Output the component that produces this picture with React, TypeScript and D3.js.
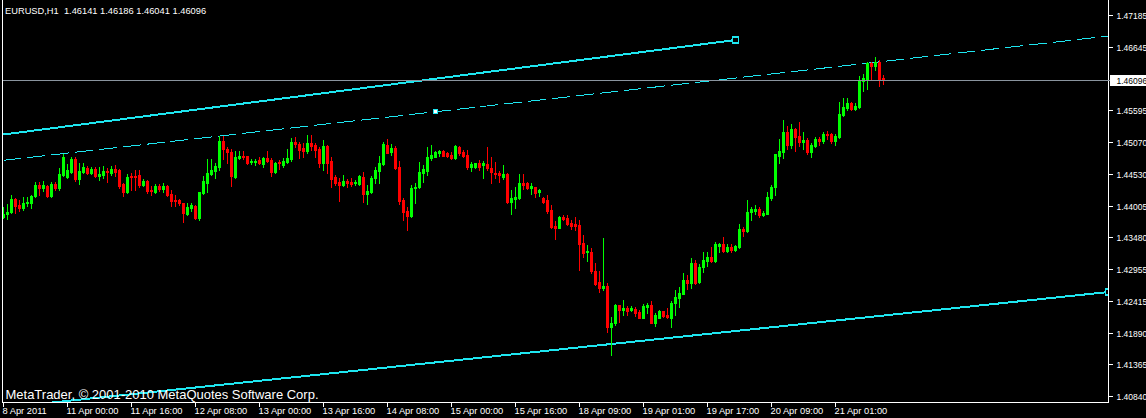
import React from "react";
import * as d3 from "d3";

const symbolTitle = "EURUSD,H1  1.46141 1.46186 1.46041 1.46096";
const copyright = "MetaTrader, \u00A9 2001-2010 MetaQuotes Software Corp.";

const open = [
  1.4382,1.4387,1.4390,1.4412,1.4402,1.4397,1.4405,1.4406,1.4417,1.4435,
  1.4430,1.4434,1.4417,1.4437,1.4430,1.4452,1.4449,1.4457,1.4479,1.4445,
  1.4457,1.4464,1.4455,1.4462,1.4450,1.4452,1.4459,1.4455,1.4462,1.4460,
  1.4437,1.4424,1.4450,1.4450,1.4452,1.4435,1.4442,1.4427,1.4424,1.4434,
  1.4429,1.4434,1.4420,1.4410,1.4410,1.4405,1.4387,1.4397,1.4400,1.4380,
  1.4422,1.4439,1.4454,1.4459,1.4465,1.4509,1.4495,1.4490,1.4449,1.4480,
  1.4484,1.4484,1.4474,1.4474,1.4477,1.4470,1.4480,1.4477,1.4457,1.4474,
  1.4469,1.4474,1.4479,1.4507,1.4504,1.4497,1.4492,1.4505,1.4502,1.4495,
  1.4472,1.4500,1.4475,1.4449,1.4440,1.4435,1.4442,1.4440,1.4439,1.4437,
  1.4449,1.4420,1.4424,1.4447,1.4459,1.4470,1.4502,1.4490,1.4497,1.4465,
  1.4410,1.4392,1.4384,1.4430,1.4432,1.4455,1.4459,1.4480,1.4482,1.4489,
  1.4492,1.4489,1.4485,1.4480,1.4498,1.4490,1.4485,1.4465,1.4465,1.4472,
  1.4469,1.4470,1.4464,1.4455,1.4455,1.4449,1.4454,1.4407,1.4412,1.4414,
  1.4439,1.4439,1.4430,1.4432,1.4424,1.4414,1.4410,1.4394,1.4367,1.4364,
  1.4382,1.4380,1.4372,1.4370,1.4369,1.4339,1.4324,1.4324,1.4292,1.4274,
  1.4264,1.4267,1.4199,1.4206,1.4236,1.4227,1.4231,1.4227,1.4229,1.4224,
  1.4214,1.4232,1.4236,1.4206,1.4214,1.4226,1.4219,1.4214,1.4239,1.4247,
  1.4254,1.4277,1.4272,1.4306,1.4274,1.4299,1.4309,1.4316,1.4309,1.4334,
  1.4337,1.4326,1.4332,1.4327,1.4332,1.4362,1.4359,1.4390,1.4392,1.4395,
  1.4385,1.4387,1.4414,1.4432,1.4484,1.4490,1.4524,1.4502,1.4529,1.4517,
  1.4507,1.4510,1.4490,1.4500,1.4512,1.4509,1.4520,1.4520,1.4509,1.4515,
  1.4552,1.4564,1.4572,1.4562,1.4565,1.4609,1.4610,1.4639,1.4634,1.4640,
  1.46141,
];

const high = [
  1.4399,1.4404,1.4419,1.4414,1.4410,1.4415,1.4415,1.4419,1.4440,1.4440,
  1.4442,1.4435,1.4440,1.4440,1.4464,1.4487,1.4470,1.4482,1.4482,1.4472,
  1.4472,1.4467,1.4465,1.4465,1.4465,1.4467,1.4464,1.4467,1.4469,1.4462,
  1.4439,1.4454,1.4455,1.4460,1.4460,1.4445,1.4444,1.4434,1.4437,1.4437,
  1.4439,1.4435,1.4427,1.4419,1.4412,1.4406,1.4405,1.4405,1.4402,1.4424,
  1.4450,1.4479,1.4479,1.4472,1.4517,1.4517,1.4498,1.4495,1.4492,1.4492,
  1.4492,1.4484,1.4479,1.4479,1.4482,1.4482,1.4492,1.4480,1.4474,1.4477,
  1.4480,1.4495,1.4514,1.4515,1.4507,1.4505,1.4519,1.4519,1.4505,1.4498,
  1.4510,1.4502,1.4482,1.4452,1.4447,1.4452,1.4445,1.4447,1.4444,1.4452,
  1.4457,1.4435,1.4450,1.4465,1.4484,1.4507,1.4512,1.4504,1.4500,1.4475,
  1.4414,1.4399,1.4435,1.4439,1.4474,1.4469,1.4499,1.4502,1.4492,1.4494,
  1.4493,1.4490,1.4490,1.4502,1.4500,1.4494,1.4494,1.4474,1.4472,1.4477,
  1.4475,1.4499,1.4482,1.4474,1.4459,1.4469,1.4455,1.4427,1.4432,1.4454,
  1.4454,1.4440,1.4439,1.4432,1.4429,1.4415,1.4419,1.4402,1.4375,1.4384,
  1.4385,1.4385,1.4377,1.4382,1.4377,1.4352,1.4336,1.4330,1.4306,1.4292,
  1.4347,1.4272,1.4216,1.4237,1.4236,1.4244,1.4234,1.4234,1.4232,1.4227,
  1.4237,1.4239,1.4242,1.4222,1.4227,1.4226,1.4231,1.4242,1.4261,1.4266,
  1.4289,1.4286,1.4314,1.4311,1.4304,1.4324,1.4324,1.4332,1.4341,1.4339,
  1.4349,1.4337,1.4337,1.4336,1.4370,1.4365,1.4410,1.4399,1.4402,1.4399,
  1.4392,1.4424,1.4435,1.4487,1.4512,1.4544,1.4534,1.4537,1.4530,1.4540,
  1.4524,1.4514,1.4505,1.4515,1.4515,1.4524,1.4525,1.4522,1.4520,1.4574,
  1.4580,1.4580,1.4574,1.4572,1.4617,1.4620,1.4640,1.4640,1.4649,1.4644,
  1.46186,
];

const low = [
  1.4380,1.4379,1.4389,1.4389,1.4392,1.4394,1.4400,1.4397,1.4415,1.4419,
  1.4425,1.4415,1.4415,1.4427,1.4427,1.4450,1.4447,1.4455,1.4442,1.4437,
  1.4455,1.4454,1.4454,1.4449,1.4444,1.4447,1.4440,1.4452,1.4450,1.4430,
  1.4417,1.4422,1.4427,1.4427,1.4432,1.4434,1.4422,1.4419,1.4422,1.4425,
  1.4424,1.4417,1.4400,1.4400,1.4402,1.4374,1.4385,1.4392,1.4379,1.4377,
  1.4420,1.4424,1.4452,1.4447,1.4460,1.4479,1.4472,1.4434,1.4447,1.4479,
  1.4479,1.4470,1.4470,1.4469,1.4470,1.4465,1.4474,1.4450,1.4455,1.4462,
  1.4465,1.4472,1.4475,1.4499,1.4480,1.4482,1.4489,1.4494,1.4482,1.4465,
  1.4460,1.4455,1.4432,1.4435,1.4409,1.4434,1.4432,1.4434,1.4435,1.4435,
  1.4407,1.4404,1.4422,1.4439,1.4439,1.4469,1.4489,1.4485,1.4462,1.4404,
  1.4377,1.4361,1.4382,1.4405,1.4430,1.4440,1.4452,1.4477,1.4482,1.4484,
  1.4484,1.4482,1.4479,1.4479,1.4485,1.4482,1.4462,1.4459,1.4464,1.4460,
  1.4447,1.4460,1.4439,1.4447,1.4440,1.4445,1.4405,1.4387,1.4397,1.4412,
  1.4429,1.4429,1.4420,1.4415,1.4417,1.4405,1.4389,1.4364,1.4346,1.4364,
  1.4377,1.4369,1.4362,1.4361,1.4294,1.4315,1.4309,1.4289,1.4269,1.4257,
  1.4261,1.4191,1.4152,1.4202,1.4207,1.4219,1.4219,1.4226,1.4217,1.4214,
  1.4214,1.4222,1.4206,1.4201,1.4214,1.4216,1.4214,1.4199,1.4219,1.4232,
  1.4254,1.4262,1.4264,1.4271,1.4272,1.4291,1.4301,1.4307,1.4307,1.4324,
  1.4324,1.4324,1.4324,1.4326,1.4330,1.4350,1.4357,1.4377,1.4387,1.4382,
  1.4384,1.4387,1.4410,1.4419,1.4472,1.4480,1.4495,1.4497,1.4492,1.4500,
  1.4495,1.4487,1.4482,1.4499,1.4502,1.4505,1.4512,1.4505,1.4502,1.4514,
  1.4550,1.4560,1.4560,1.4560,1.4564,1.4592,1.4595,1.4612,1.4627,1.4600,
  1.46041,
];

const close = [
  1.4387,1.4390,1.4412,1.4400,1.4397,1.4405,1.4407,1.4417,1.4435,1.4430,
  1.4435,1.4417,1.4437,1.4430,1.4454,1.4482,1.4460,1.4479,1.4445,1.4459,
  1.4465,1.4455,1.4462,1.4450,1.4454,1.4459,1.4457,1.4462,1.4457,1.4434,
  1.4424,1.4449,1.4449,1.4449,1.4435,1.4442,1.4425,1.4425,1.4434,1.4429,
  1.4434,1.4419,1.4409,1.4409,1.4405,1.4389,1.4399,1.4402,1.4380,1.4424,
  1.4442,1.4455,1.4460,1.4467,1.4509,1.4495,1.4490,1.4450,1.4482,1.4484,
  1.4482,1.4472,1.4475,1.4475,1.4472,1.4480,1.4475,1.4457,1.4472,1.4472,
  1.4475,1.4480,1.4507,1.4504,1.4494,1.4492,1.4505,1.4500,1.4494,1.4472,
  1.4500,1.4472,1.4445,1.4439,1.4435,1.4442,1.4439,1.4437,1.4440,1.4450,
  1.4420,1.4425,1.4447,1.4460,1.4472,1.4504,1.4489,1.4497,1.4464,1.4409,
  1.4390,1.4384,1.4430,1.4432,1.4457,1.4462,1.4482,1.4485,1.4490,1.4492,
  1.4484,1.4484,1.4480,1.4500,1.4489,1.4484,1.4465,1.4470,1.4472,1.4465,
  1.4472,1.4464,1.4457,1.4454,1.4452,1.4454,1.4407,1.4414,1.4415,1.4439,
  1.4435,1.4430,1.4434,1.4422,1.4427,1.4407,1.4392,1.4366,1.4364,1.4382,
  1.4379,1.4370,1.4367,1.4367,1.4337,1.4322,1.4325,1.4292,1.4271,1.4264,
  1.4267,1.4199,1.4206,1.4236,1.4227,1.4231,1.4226,1.4231,1.4222,1.4214,
  1.4234,1.4236,1.4206,1.4219,1.4226,1.4217,1.4216,1.4239,1.4249,1.4256,
  1.4277,1.4272,1.4306,1.4272,1.4299,1.4311,1.4316,1.4309,1.4337,1.4337,
  1.4326,1.4332,1.4327,1.4334,1.4362,1.4359,1.4390,1.4395,1.4395,1.4385,
  1.4389,1.4415,1.4432,1.4487,1.4492,1.4524,1.4502,1.4529,1.4515,1.4507,
  1.4510,1.4490,1.4502,1.4512,1.4509,1.4520,1.4519,1.4509,1.4517,1.4554,
  1.4565,1.4572,1.4562,1.4567,1.4610,1.4614,1.4639,1.4634,1.4640,1.4612,
  1.46096,
];

// price axis labels
const priceTicks = [1.47185, 1.46645, 1.45595, 1.45070, 1.44530, 1.44005, 1.43480, 1.42955, 1.42415, 1.41890, 1.41365, 1.40840];
const lastPrice = 1.46096;

// time axis: bar index of each label, and its text
const timeTickBars = [0, 16, 32, 48, 64, 80, 96, 112, 128, 144, 160, 176, 192, 208];
const timeTickLabels = [
  "8 Apr 2011", "11 Apr 00:00", "11 Apr 16:00", "12 Apr 08:00", "13 Apr 00:00",
  "13 Apr 16:00", "14 Apr 08:00", "15 Apr 00:00", "15 Apr 16:00", "18 Apr 09:00",
  "19 Apr 01:00", "19 Apr 17:00", "20 Apr 09:00", "21 Apr 01:00",
];

// trend lines: [barIndex, price] anchors
const upperTrend = [[0, 1.45195], [183, 1.46769]];
const middleTrend = [[0, 1.44765], [276.25, 1.46834]];
const middleMarkerBar = 108;
const lowerTrend = [[0, 1.40647], [276.25, 1.42572]];

const W = 1146;
const H = 418;
const CYAN = "#1ee6f0";
const FONT = "'Liberation Sans', Arial, sans-serif";

export default function App() {
  const x = d3.scaleLinear().domain([0, 276.25]).range([3.5, 1108.5]);
  const y = d3.scaleLinear().domain([1.4084, 1.47185]).range([396, 15]);
  const line = d3
    .line<number[]>()
    .x((d) => x(d[0]))
    .y((d) => y(d[1]));

  const plotRight = 1108;
  const plotBottom = 402;

  const candles = open.map((o, i) => {
    const c = close[i];
    const h = high[i];
    const l = low[i];
    const px = Math.floor(x(i));
    const up = c >= o;
    const col = up ? "#00ff00" : "#ff0000";
    const bt = Math.round(y(Math.max(o, c)));
    const bb = Math.round(y(Math.min(o, c)));
    const wt = Math.round(y(h));
    const wb = Math.round(y(l));
    return (
      <g key={i} fill={col}>
        <rect x={px} y={wt} width={1} height={Math.max(1, wb - wt + 1)} />
        <rect x={px - 1} y={bt} width={3} height={Math.max(1, bb - bt + (bb - bt > 0 ? 1 : 0))} />
      </g>
    );
  });

  const midAt = (b: number) => {
    const [[b0, p0], [b1, p1]] = middleTrend;
    return p0 + ((p1 - p0) * (b - b0)) / (b1 - b0);
  };

  const lpY = Math.round(y(lastPrice));

  return (
    <svg
      width={W}
      height={H}
      style={{ position: "absolute", left: 0, top: 0, display: "block", background: "#000" }}
      fontFamily={FONT}
    >
      <rect x={0} y={0} width={W} height={H} fill="#000" />
      <defs>
        <clipPath id="plot">
          <rect x={3} y={0} width={plotRight - 3} height={plotBottom} />
        </clipPath>
      </defs>

      <text x={5} y={14} fill="#fff" fontSize={9.3} style={{ whiteSpace: "pre" }}>
        {symbolTitle}
      </text>

      <g clipPath="url(#plot)">
        <path d={line(upperTrend as number[][]) || ""} stroke={CYAN} strokeWidth={2} fill="none" shapeRendering="crispEdges" />
        <path
          d={line(middleTrend as number[][]) || ""}
          stroke={CYAN}
          strokeWidth={1}
          fill="none"
          strokeDasharray="18 6"
          shapeRendering="crispEdges"
        />
        <path d={line(lowerTrend as number[][]) || ""} stroke={CYAN} strokeWidth={2} fill="none" shapeRendering="crispEdges" />
        {candles}
        <line x1={3} x2={plotRight} y1={lpY + 0.5} y2={lpY + 0.5} stroke="#8a949e" strokeWidth={1} shapeRendering="crispEdges" />
        <rect
          x={x(upperTrend[1][0]) - 3}
          y={y(upperTrend[1][1]) - 3}
          width={6}
          height={6}
          fill="#000"
          stroke={CYAN}
          strokeWidth={1.5}
          shapeRendering="crispEdges"
        />
        <rect
          x={x(middleMarkerBar) - 2}
          y={y(midAt(middleMarkerBar)) - 2}
          width={4}
          height={4}
          fill="#fff"
          stroke={CYAN}
          strokeWidth={1}
          shapeRendering="crispEdges"
        />
        <rect
          x={x(lowerTrend[1][0]) - 3}
          y={y(lowerTrend[1][1]) - 3}
          width={6}
          height={6}
          fill="#000"
          stroke={CYAN}
          strokeWidth={1.5}
          shapeRendering="crispEdges"
        />
      </g>

      <text x={5.5} y={399} fill="#fff" fontSize={13} textLength={313} lengthAdjust="spacingAndGlyphs">
        {copyright}
      </text>

      {/* frame */}
      <g stroke="#fff" strokeWidth={1} shapeRendering="crispEdges">
        <line x1={2.5} x2={2.5} y1={0} y2={plotBottom + 0.5} />
        <line x1={plotRight + 0.5} x2={plotRight + 0.5} y1={0} y2={plotBottom + 0.5} />
        <line x1={2} x2={plotRight + 1} y1={plotBottom + 0.5} y2={plotBottom + 0.5} />
      </g>

      {/* price axis */}
      <g fill="#fff" fontSize={8.5}>
        {priceTicks.map((v) => {
          const yy = Math.round(y(v));
          return (
            <g key={v}>
              <line x1={plotRight + 1} x2={plotRight + 5} y1={yy + 0.5} y2={yy + 0.5} stroke="#fff" shapeRendering="crispEdges" />
              <text x={1116.5} y={yy + 3.5}>
                {v.toFixed(5)}
              </text>
            </g>
          );
        })}
      </g>
      <line x1={plotRight} x2={1111} y1={lpY + 0.5} y2={lpY + 0.5} stroke="#8a949e" shapeRendering="crispEdges" />
      <rect x={1110} y={lpY - 5} width={36} height={11} fill="#fff" />
      <text x={1116.5} y={lpY + 3.5} fill="#000" fontSize={8.5}>
        {lastPrice.toFixed(5)}
      </text>

      {/* time axis */}
      <g fill="#fff" fontSize={9.3}>
        {timeTickBars.map((b, k) => {
          const xx = Math.floor(x(b));
          return (
            <g key={b}>
              <line x1={xx + 0.5} x2={xx + 0.5} y1={plotBottom} y2={plotBottom + 5} stroke="#fff" shapeRendering="crispEdges" />
              <text x={xx - 0.5} y={414}>
                {timeTickLabels[k]}
              </text>
            </g>
          );
        })}
      </g>
    </svg>
  );
}
